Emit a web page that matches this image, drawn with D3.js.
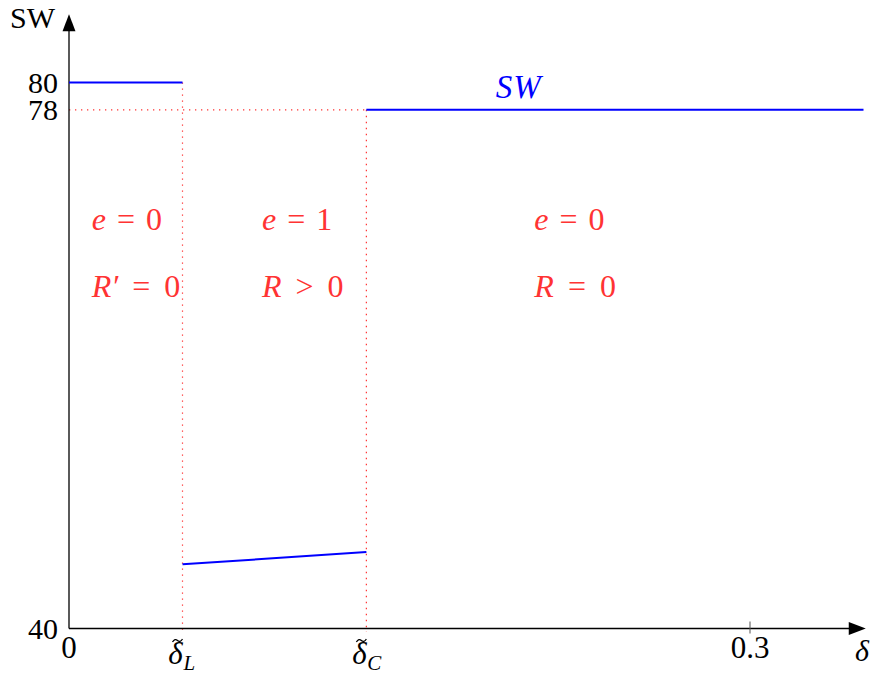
<!DOCTYPE html>
<html>
<head>
<meta charset="utf-8">
<script src="https://cdn.jsdelivr.net/npm/d3@7"></script>
<style>
  body { margin: 0; background: #fff; }
</style>
</head>
<body>
<svg id="chart"></svg>
<script>
// social welfare segments (delta start/end, SW start/end)
const segDelta = [[0, 0.05], [0.05, 0.131], [0.131, 0.35]];
const segSW = [[80, 80], [44.7, 45.6], [78, 78]];

// thresholds
const deltaL = 0.05;
const deltaC = 0.131;

const yTicks = [40, 78, 80];
const xTickLabels = ['0', '0.3'];
const xTickValues = [0, 0.3];

// region annotations: left symbol, relation, right side
const regionX = [0.01, 0.085, 0.205];
const regionE = [['e', '=', '0'], ['e', '=', '1'], ['e', '=', '0']];
const regionR = [['R′', '=', '0'], ['R', '>', '0'], ['R', '=', '0']];

const svgWidth = 870;
const svgHeight = 678;
const fontFam = "'Liberation Serif', 'DejaVu Serif', serif";

const svg = d3.select('#chart')
  .attr('width', svgWidth)
  .attr('height', svgHeight)
  .attr('font-family', fontFam)
  .style('font-family', fontFam);

const xScale = d3.scaleLinear()
  .domain([0, 0.35])
  .range([69, 863.5]);

const yScale = d3.scaleLinear()
  .domain([40, 85])
  .range([628.5, 14.3]);

const red = '#ff3333';

// dotted guides
svg.append('line')
  .attr('x1', xScale(0)).attr('x2', xScale(deltaC))
  .attr('y1', yScale(78)).attr('y2', yScale(78))
  .attr('stroke', red).attr('stroke-width', 1.2)
  .attr('stroke-dasharray', '1.3,4.7');

[[deltaL, 80], [deltaC, 78]].forEach(([d, top]) => {
  svg.append('line')
    .attr('x1', xScale(d)).attr('x2', xScale(d))
    .attr('y1', yScale(top)).attr('y2', yScale(39.75))
    .attr('stroke', red).attr('stroke-width', 1.2)
    .attr('stroke-dasharray', '1.3,4.7');
});

// axes
svg.append('line')
  .attr('x1', xScale(0)).attr('x2', xScale(0.344))
  .attr('y1', yScale(40)).attr('y2', yScale(40))
  .attr('stroke', '#000').attr('stroke-width', 1.3);
svg.append('line')
  .attr('x1', xScale(0)).attr('x2', xScale(0))
  .attr('y1', yScale(40)).attr('y2', yScale(84))
  .attr('stroke', '#000').attr('stroke-width', 1.3);

// arrow heads
const xe = xScale(0.351), ye = yScale(40);
svg.append('path')
  .attr('d', `M${xe},${ye} L${xe - 17},${ye - 6.5} L${xe - 17},${ye + 6.5} Z`)
  .attr('fill', '#000');
const xa = xScale(0), ya = yScale(85);
svg.append('path')
  .attr('d', `M${xa},${ya} L${xa - 6.5},${ya + 17} L${xa + 6.5},${ya + 17} Z`)
  .attr('fill', '#000');

// tick at 0.3
svg.append('line')
  .attr('x1', xScale(0.3)).attr('x2', xScale(0.3))
  .attr('y1', yScale(40) - 7).attr('y2', yScale(40) + 5)
  .attr('stroke', '#555').attr('stroke-width', 1);

// SW segments
const line = d3.line()
  .x(d => xScale(d[0]))
  .y(d => yScale(d[1]));

segDelta.forEach((seg, i) => {
  svg.append('path')
    .datum([[seg[0], segSW[i][0]], [seg[1], segSW[i][1]]])
    .attr('fill', 'none')
    .attr('stroke', '#0000ff')
    .attr('stroke-width', 2)
    .attr('d', line);
});

// y tick labels
svg.selectAll('.ylab')
  .data(yTicks)
  .enter()
  .append('text')
  .attr('class', 'ylab')
  .attr('x', xScale(0) - 11)
  .attr('y', d => yScale(d) + 10)
  .attr('text-anchor', 'end')
  .attr('font-size', 30)
  .text(d => d);

// x tick labels
svg.selectAll('.xlab')
  .data(xTickValues)
  .enter()
  .append('text')
  .attr('class', 'xlab')
  .attr('x', d => xScale(d))
  .attr('y', 658)
  .attr('text-anchor', 'middle')
  .attr('font-size', 31)
  .text((d, i) => xTickLabels[i]);

// delta threshold labels (tilde accent drawn as a small stroke)
[[deltaL, 'L'], [deltaC, 'C']].forEach(([d, sub]) => {
  const cx = xScale(d);
  svg.append('text')
    .attr('x', cx - 7)
    .attr('y', 664)
    .attr('text-anchor', 'middle')
    .attr('font-size', 31)
    .attr('font-style', 'italic')
    .text('δ');
  const tx = cx - 5, ty = 640;
  svg.append('path')
    .attr('d', `M${tx - 5},${ty + 2} Q${tx - 2.5},${ty - 2} ${tx},${ty + 0.5} T${tx + 5},${ty - 1}`)
    .attr('fill', 'none')
    .attr('stroke', '#000')
    .attr('stroke-width', 1.3);
  svg.append('text')
    .attr('x', cx + 1)
    .attr('y', 670)
    .attr('font-size', 21)
    .attr('font-style', 'italic')
    .text(sub);
});

// axis names
svg.append('text')
  .attr('x', 10).attr('y', 28)
  .attr('font-size', 30)
  .text('SW');
svg.append('text')
  .attr('x', 855).attr('y', 661)
  .attr('font-size', 30)
  .attr('font-style', 'italic')
  .text('δ');

// curve label
svg.append('text')
  .attr('x', xScale(0.188)).attr('y', 98)
  .attr('font-size', 33)
  .attr('font-style', 'italic')
  .attr('letter-spacing', 1)
  .attr('fill', '#0000ff')
  .text('SW');

// region annotations
function mathLabel(x, y, parts, gap) {
  const t = svg.append('text')
    .attr('x', x).attr('y', y)
    .attr('font-size', 32)
    .attr('fill', red);
  t.append('tspan').attr('font-style', 'italic').text(parts[0]);
  t.append('tspan').attr('dx', gap).text(parts[1]);
  t.append('tspan').attr('dx', gap).text(parts[2]);
}

regionX.forEach((rx, i) => {
  mathLabel(xScale(rx), 230, regionE[i], 11);
  mathLabel(xScale(rx), 297, regionR[i], 14);
});
</script>
</body>
</html>
